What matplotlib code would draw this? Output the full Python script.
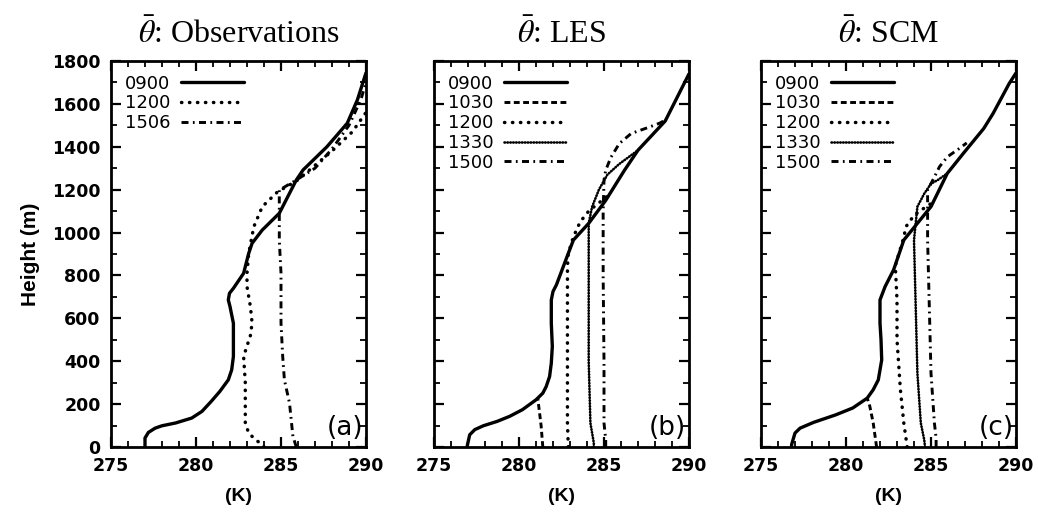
import matplotlib
matplotlib.use("Agg")
import matplotlib.pyplot as plt
from matplotlib.ticker import MultipleLocator

# potential temperature profiles: (K) vs height (m)
obs_z_0900 = [0, 42, 68, 88, 99, 112, 135, 166, 213, 259, 313, 360, 422, 500, 577, 655, 686, 717, 740, 810, 903, 950, 1012, 1090, 1245, 1292, 1400, 1510, 1620, 1745]
obs_t_0900 = [277.0, 277.0, 277.2, 277.6, 278.0, 278.8, 279.75, 280.35, 280.9, 281.4, 281.9, 282.1, 282.2, 282.2, 282.2, 282.0, 281.9, 281.97, 282.2, 282.8, 283.1, 283.3, 283.9, 284.9, 285.9, 286.3, 287.7, 288.9, 289.5, 290.0]
obs_z_1200 = [0, 11, 34, 65, 112, 189, 300, 422, 520, 578, 655, 748, 810, 903, 1027, 1121, 1190, 1240, 1300, 1380, 1470, 1560]
obs_t_1200 = [284.0, 283.9, 283.5, 283.1, 282.9, 282.9, 282.9, 282.8, 283.2, 283.3, 283.2, 283.0, 283.0, 283.1, 283.4, 283.9, 284.8, 285.9, 286.8, 288.0, 289.2, 290.0]
obs_z_1506 = [0, 50, 205, 313, 422, 578, 810, 965, 1074, 1198, 1245, 1300, 1390, 1500, 1620, 1700]
obs_t_1506 = [285.9, 285.7, 285.5, 285.2, 285.1, 285.0, 285.0, 284.9, 284.9, 284.9, 285.9, 287.0, 288.0, 289.0, 289.7, 290.0]

les_z_0900 = [0, 11, 57, 81, 99, 119, 143, 174, 220, 251, 282, 329, 391, 469, 577, 686, 725, 756, 903, 965, 1043, 1150, 1290, 1384, 1520, 1630, 1740]
les_t_0900 = [276.95, 276.97, 277.1, 277.4, 277.9, 278.7, 279.45, 280.2, 281.0, 281.4, 281.6, 281.8, 281.9, 281.96, 281.9, 281.9, 282.0, 282.2, 282.9, 283.2, 284.1, 285.1, 286.2, 287.0, 288.6, 289.3, 290.0]
les_z_1030 = [0, 100, 230]
les_t_1030 = [281.4, 281.3, 281.1]
les_z_1200 = [0, 112, 300, 500, 700, 840, 903, 980, 1050, 1100, 1170]
les_t_1200 = [282.9, 282.85, 282.85, 282.85, 282.85, 282.85, 282.9, 283.2, 283.6, 284.1, 285.2]
les_z_1330 = [0, 19, 112, 400, 700, 1000, 1043, 1120, 1200, 1270, 1320, 1384]
les_t_1330 = [284.4, 284.4, 284.2, 284.1, 284.1, 284.1, 284.1, 284.3, 284.7, 285.2, 285.9, 287.0]
les_z_1500 = [0, 34, 112, 400, 800, 1100, 1245, 1290, 1350, 1415, 1462, 1490, 1511, 1525]
les_t_1500 = [285.1, 285.1, 285.0, 285.0, 284.95, 284.95, 285.0, 285.1, 285.4, 285.9, 286.6, 287.6, 288.3, 288.6]

scm_z_0900 = [0, 11, 65, 88, 115, 150, 182, 228, 267, 313, 406, 500, 577, 686, 717, 748, 826, 965, 1043, 1121, 1276, 1369, 1485, 1555, 1695, 1744]
scm_t_0900 = [276.8, 276.8, 277.0, 277.3, 278.1, 279.4, 280.4, 281.25, 281.6, 281.9, 282.1, 282.06, 282.0, 282.0, 282.15, 282.3, 282.8, 283.4, 284.2, 285.0, 285.96, 286.9, 288.1, 288.65, 289.6, 290.0]
scm_z_1030 = [0, 112, 190, 228]
scm_t_1030 = [281.8, 281.6, 281.4, 281.25]
scm_z_1200 = [0, 112, 267, 500, 686, 845, 965, 1030, 1080, 1120, 1140]
scm_t_1200 = [283.6, 283.4, 283.2, 283.0, 283.0, 282.9, 283.35, 283.55, 284.0, 284.7, 285.1]
scm_z_1330 = [0, 34, 112, 344, 655, 965, 1121, 1181, 1228, 1245, 1276]
scm_t_1330 = [284.65, 284.6, 284.4, 284.2, 284.1, 284.0, 284.2, 284.6, 285.0, 285.4, 285.96]
scm_z_1500 = [0, 41, 112, 344, 655, 965, 1090, 1198, 1259, 1307, 1353, 1394, 1418]
scm_t_1500 = [285.3, 285.3, 285.2, 285.0, 284.9, 284.8, 284.8, 284.8, 285.2, 285.5, 285.96, 286.7, 287.1]

styles = {
    '0900': dict(ls='-', lw=2.4, solid_capstyle='round'),
    '1030': dict(ls=(0, (2.0, 1.2)), lw=2.1, dash_capstyle='butt'),
    '1200': dict(ls=(0, (0.1, 2.2)), lw=2.5, dash_capstyle='round'),
    '1330': dict(ls=(0, (0.2, 0.9)), lw=1.9, dash_capstyle='round'),
    '1500': dict(ls=(0, (2.4, 1.5, 0.6, 1.5)), lw=2.1, dash_capstyle='butt'),
}

panels = [
    (r'$\bar{\theta}$: Observations', '(a)',
     [('0900', obs_t_0900, obs_z_0900, '0900'),
      ('1200', obs_t_1200, obs_z_1200, '1200'),
      ('1506', obs_t_1506, obs_z_1506, '1500')]),
    (r'$\bar{\theta}$: LES', '(b)',
     [('0900', les_t_0900, les_z_0900, '0900'),
      ('1030', les_t_1030, les_z_1030, '1030'),
      ('1200', les_t_1200, les_z_1200, '1200'),
      ('1330', les_t_1330, les_z_1330, '1330'),
      ('1500', les_t_1500, les_z_1500, '1500')]),
    (r'$\bar{\theta}$: SCM', '(c)',
     [('0900', scm_t_0900, scm_z_0900, '0900'),
      ('1030', scm_t_1030, scm_z_1030, '1030'),
      ('1200', scm_t_1200, scm_z_1200, '1200'),
      ('1330', scm_t_1330, scm_z_1330, '1330'),
      ('1500', scm_t_1500, scm_z_1500, '1500')]),
]

plt.rcParams['font.family'] = ['Liberation Sans', 'DejaVu Sans']
plt.rcParams['mathtext.fontset'] = 'stix'

W, H = 1038, 514
fig = plt.figure(figsize=(W / 100, H / 100), dpi=100)
lefts = [111, 434, 761]
width = 255
top, bottom = 61, 447

for i, (title, tag, series) in enumerate(panels):
    ax = fig.add_axes([lefts[i] / W, (H - bottom) / H, width / W, (bottom - top) / H])
    for label, t, z, st in series:
        ax.plot(t, z, color='black', label=label, **styles[st])
    ax.set_xlim(275, 290)
    ax.set_ylim(0, 1800)
    ax.xaxis.set_major_locator(MultipleLocator(5))
    ax.xaxis.set_minor_locator(MultipleLocator(1))
    ax.yaxis.set_major_locator(MultipleLocator(200))
    ax.yaxis.set_minor_locator(MultipleLocator(100))
    ax.tick_params(which='both', direction='in', top=True, right=True)
    ax.tick_params(which='major', length=7, width=1.6, pad=7.5)
    ax.tick_params(which='minor', length=4, width=1.3)
    for lab in ax.get_xticklabels() + ax.get_yticklabels():
        lab.set_fontfamily('DejaVu Sans')
        lab.set_fontsize(12.5)
        lab.set_fontweight('bold')
    for sp in ax.spines.values():
        sp.set_linewidth(2)
    if i > 0:
        ax.set_yticklabels([])
    else:
        ax.set_ylabel('Height (m)', fontsize=15, fontweight='bold', labelpad=9)
    ax.set_xlabel('(K)', fontsize=14, fontweight='bold', labelpad=9)
    ax.set_title(title, family=['Liberation Serif'], fontsize=23, pad=13)
    ax.text(0.99, 0.015, tag, transform=ax.transAxes, ha='right', va='bottom',
            fontsize=19, family=['DejaVu Sans'])
    ax.legend(loc='upper left', frameon=False, markerfirst=False, handlelength=3.5,
              handletextpad=0.6, labelspacing=0.1, borderaxespad=0.35, borderpad=0.4,
              prop={'family': 'DejaVu Sans', 'size': 13})

fig.savefig('out.png', dpi=100)
